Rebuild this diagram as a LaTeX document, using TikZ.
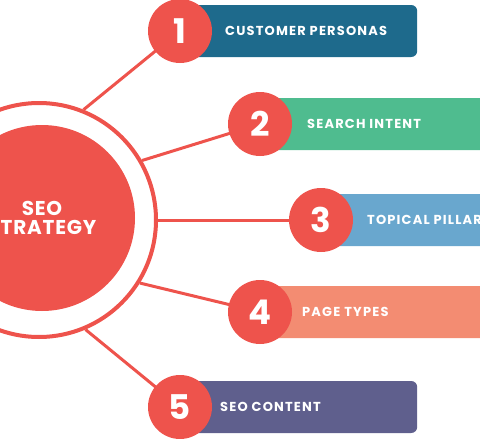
\documentclass[tikz,border=0pt]{standalone}
\usepackage{fontspec}
\setmainfont{Poppins}
\usetikzlibrary{positioning}
\definecolor{seored}{HTML}{EE534C}
\definecolor{boxone}{HTML}{1E6A8C}
\definecolor{boxtwo}{HTML}{4FBC8F}
\definecolor{boxthree}{HTML}{69A7CE}
\definecolor{boxfour}{HTML}{F38C72}
\definecolor{boxfive}{HTML}{5F5F8D}

\begin{document}
\begin{tikzpicture}
[x=1pt,y=-1pt,
  num node/.style={circle,fill=seored,text=white,minimum size=64pt,inner sep=0pt,font=\fontsize{34}{34}\selectfont\bfseries},
  item box/.style={rounded corners=6pt,minimum width=237pt,minimum height=52pt,anchor=west,inner sep=0pt},
  item text/.style={text=white,font=\fontsize{13}{14}\selectfont\bfseries\addfontfeatures{LetterSpace=9},anchor=west,inner sep=0pt},
  link/.style={draw=seored,line width=3pt}]

  \useasboundingbox (0,0) rectangle (480,439);
  \clip (0,0) rectangle (480,439);

  % items
  \coordinate (c1) at (180,31);
  \coordinate (c2) at (260,124);
  \coordinate (c3) at (321,220);
  \coordinate (c4) at (260,312);
  \coordinate (c5) at (180,407);

  \node [item box,fill=boxone] (b1) at (c1) {};
  \node [item box,fill=boxtwo] (b2) at (c2) {};
  \node [item box,fill=boxthree] (b3) at (c3) {};
  \node [item box,fill=boxfour] (b4) at (c4) {};
  \node [item box,fill=boxfive] (b5) at (c5) {};

  \node [item text] (t1) at ([xshift=45pt]b1.west) {CUSTOMER PERSONAS};
  \node [item text] (t2) at ([xshift=47pt]b2.west) {SEARCH INTENT};
  \node [item text] (t3) at ([xshift=46pt]b3.west) {TOPICAL PILLAR};
  \node [item text] (t4) at ([xshift=42pt]b4.west) {PAGE TYPES};
  \node [item text] (t5) at ([xshift=40pt]b5.west) {SEO CONTENT};

  % hub
  \node [circle,draw=seored,line width=4pt,minimum size=234pt,inner sep=0pt] (ring) at (39,220) {};
  \node [circle,fill=seored,minimum size=186pt,inner sep=0pt,text=white,align=center,
    font=\fontsize{20}{19}\selectfont\bfseries\addfontfeatures{LetterSpace=4}] (core) at (42,218) {SEO\\STRATEGY};

  \foreach \a/\i in {68/1,30/2,0/3,-32/4,-67/5}
    \draw [link] (ring.\a) -- (c\i);

  \node [num node] (n1) at (c1) {1};
  \node [num node] (n2) at (c2) {2};
  \node [num node] (n3) at (c3) {3};
  \node [num node] (n4) at (c4) {4};
  \node [num node] (n5) at (c5) {5};

\end{tikzpicture}
\end{document}
